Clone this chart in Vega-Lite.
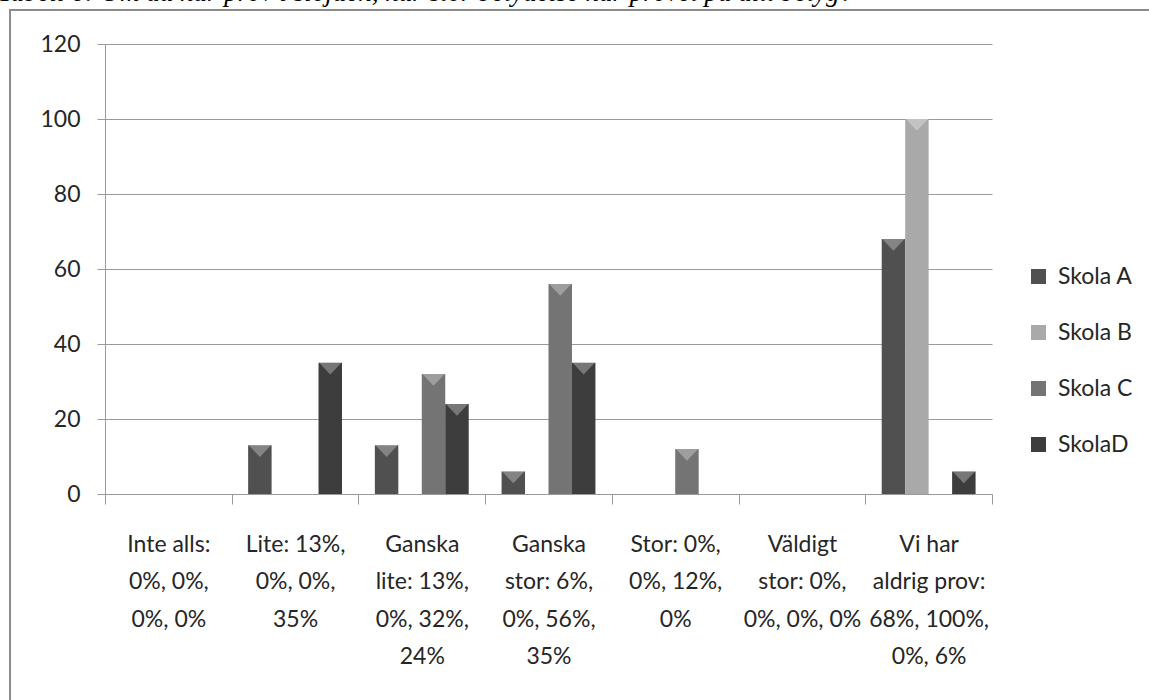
{
  "$schema": "https://vega.github.io/schema/vega-lite/v6.json",
  "autosize": "none",
  "width": 1142,
  "height": 693,
  "padding": {"left": 10, "top": 10, "right": -3, "bottom": -3},
  "background": "white",
  "title": {
    "text": "Tabell 6: Om du har prov i slöjden, hur stor betydelse har provet på ditt betyg?",
    "anchor": "start",
    "frame": "group",
    "orient": "top",
    "baseline": "alphabetic",
    "offset": 0,
    "dy": 18,
    "dx": -12,
    "font": "Liberation Serif",
    "fontStyle": "italic",
    "fontWeight": "normal",
    "fontSize": 27,
    "color": "#000000"
  },
  "config": {
    "view": {"stroke": "#8c8c8c", "strokeWidth": 2},
    "axis": {
      "labelFont": "Lato",
      "labelFontSize": 23,
      "labelColor": "#262626",
      "domainColor": "#9a9a9a",
      "tickColor": "#9a9a9a",
      "gridColor": "#9a9a9a",
      "gridWidth": 1,
      "title": null
    },
    "legend": {
      "labelFont": "Lato",
      "labelFontSize": 23,
      "labelColor": "#262626"
    }
  },
  "data": {
    "values": [
      {"svar": "Inte alls:\n0%, 0%,\n0%, 0%", "skola": "Skola A", "andel": 0},
      {"svar": "Inte alls:\n0%, 0%,\n0%, 0%", "skola": "Skola B", "andel": 0},
      {"svar": "Inte alls:\n0%, 0%,\n0%, 0%", "skola": "Skola C", "andel": 0},
      {"svar": "Inte alls:\n0%, 0%,\n0%, 0%", "skola": "SkolaD", "andel": 0},
      {"svar": "Lite: 13%,\n0%, 0%,\n35%", "skola": "Skola A", "andel": 13},
      {"svar": "Lite: 13%,\n0%, 0%,\n35%", "skola": "Skola B", "andel": 0},
      {"svar": "Lite: 13%,\n0%, 0%,\n35%", "skola": "Skola C", "andel": 0},
      {"svar": "Lite: 13%,\n0%, 0%,\n35%", "skola": "SkolaD", "andel": 35},
      {"svar": "Ganska\nlite: 13%,\n0%, 32%,\n24%", "skola": "Skola A", "andel": 13},
      {"svar": "Ganska\nlite: 13%,\n0%, 32%,\n24%", "skola": "Skola B", "andel": 0},
      {"svar": "Ganska\nlite: 13%,\n0%, 32%,\n24%", "skola": "Skola C", "andel": 32},
      {"svar": "Ganska\nlite: 13%,\n0%, 32%,\n24%", "skola": "SkolaD", "andel": 24},
      {"svar": "Ganska\nstor: 6%,\n0%, 56%,\n35%", "skola": "Skola A", "andel": 6},
      {"svar": "Ganska\nstor: 6%,\n0%, 56%,\n35%", "skola": "Skola B", "andel": 0},
      {"svar": "Ganska\nstor: 6%,\n0%, 56%,\n35%", "skola": "Skola C", "andel": 56},
      {"svar": "Ganska\nstor: 6%,\n0%, 56%,\n35%", "skola": "SkolaD", "andel": 35},
      {"svar": "Stor: 0%,\n0%, 12%,\n0%", "skola": "Skola A", "andel": 0},
      {"svar": "Stor: 0%,\n0%, 12%,\n0%", "skola": "Skola B", "andel": 0},
      {"svar": "Stor: 0%,\n0%, 12%,\n0%", "skola": "Skola C", "andel": 12},
      {"svar": "Stor: 0%,\n0%, 12%,\n0%", "skola": "SkolaD", "andel": 0},
      {"svar": "Väldigt\nstor: 0%,\n0%, 0%, 0%", "skola": "Skola A", "andel": 0},
      {"svar": "Väldigt\nstor: 0%,\n0%, 0%, 0%", "skola": "Skola B", "andel": 0},
      {"svar": "Väldigt\nstor: 0%,\n0%, 0%, 0%", "skola": "Skola C", "andel": 0},
      {"svar": "Väldigt\nstor: 0%,\n0%, 0%, 0%", "skola": "SkolaD", "andel": 0},
      {"svar": "Vi har\naldrig prov:\n68%, 100%,\n0%, 6%", "skola": "Skola A", "andel": 68},
      {"svar": "Vi har\naldrig prov:\n68%, 100%,\n0%, 6%", "skola": "Skola B", "andel": 100},
      {"svar": "Vi har\naldrig prov:\n68%, 100%,\n0%, 6%", "skola": "Skola C", "andel": 0},
      {"svar": "Vi har\naldrig prov:\n68%, 100%,\n0%, 6%", "skola": "SkolaD", "andel": 6}
    ]
  },
  "encoding": {
    "x": {
      "field": "svar",
      "type": "nominal",
      "sort": null,
      "scale": {"range": [95, 982], "paddingInner": 0, "paddingOuter": 0},
      "axis": {
        "orient": "bottom",
        "offset": -209,
        "labelAngle": 0,
        "labelExpr": "split(datum.label, '\\n')",
        "labelLineHeight": 37.5,
        "labelPadding": 29,
        "labelOverlap": false,
        "labelLimit": 0,
        "tickBand": "extent",
        "tickSize": 10,
        "grid": false
      }
    },
    "xOffset": {
      "field": "skola",
      "type": "nominal",
      "scale": {
        "domain": ["Skola A", "Skola B", "Skola C", "SkolaD"],
        "paddingInner": 0,
        "paddingOuter": 0.7
      }
    },
    "y": {
      "field": "andel",
      "type": "quantitative",
      "scale": {"domain": [0, 120], "range": [484, 34], "nice": false},
      "axis": {
        "orient": "left",
        "offset": -95,
        "values": [0, 20, 40, 60, 80, 100, 120],
        "tickSize": 8,
        "labelPadding": 17,
        "grid": true
      }
    }
  },
  "layer": [
    {
      "mark": {"type": "bar"},
      "encoding": {
        "color": {
          "field": "skola",
          "type": "nominal",
          "scale": {
            "domain": ["Skola A", "Skola B", "Skola C", "SkolaD"],
            "range": ["#505050", "#a9a9a9", "#747474", "#3d3d3d"]
          },
          "legend": {
            "orient": "none",
            "legendX": 1017,
            "legendY": 255,
            "title": null,
            "padding": 0,
            "symbolType": "square",
            "symbolSize": 225,
            "symbolStrokeWidth": 0,
            "rowPadding": 32,
            "labelOffset": 8
          }
        }
      }
    },
    {
      "transform": [{"filter": "datum.andel > 0"}],
      "mark": {
        "type": "point",
        "shape": "M-0.95,0L0.95,0L0,1Z",
        "filled": true,
        "fill": "#ffffff",
        "fillOpacity": 0.3,
        "strokeWidth": 0,
        "size": 550
      }
    }
  ]
}
